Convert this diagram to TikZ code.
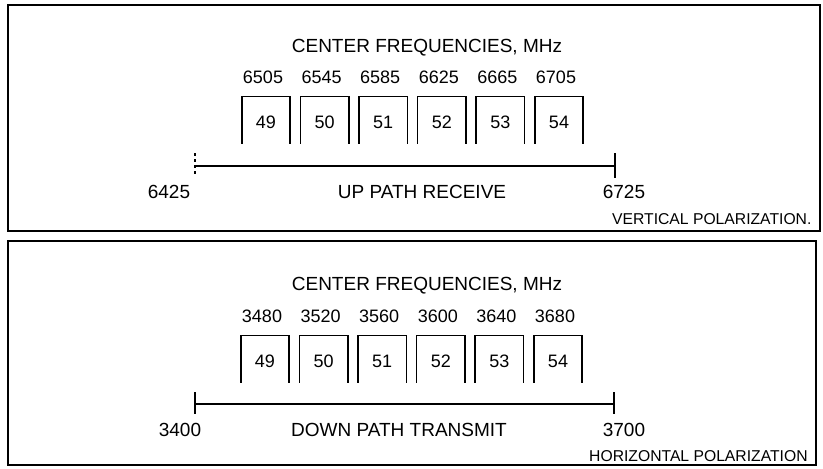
\documentclass[tikz,border=0pt]{standalone}
\usepackage{fontspec}
\setmainfont{Liberation Sans}
\usetikzlibrary{arrows.meta,positioning}

\begin{document}
\begin{tikzpicture}[
        x=1pt, y=-1pt,
        node distance=12pt and 10.2pt,
        panel/.style={line width=1.6pt},
        chan/.style={minimum width=48pt, minimum height=47pt, inner sep=0pt,
                     text height=18pt, font=\fontsize{18}{20}\selectfont},
        chanline/.style={line width=1.6pt},
        freq/.style={inner sep=0pt, font=\fontsize{18}{20}\selectfont},
        label/.style={inner sep=0pt, anchor=base, font=\fontsize{19}{22}\selectfont},
        pol/.style={inner sep=0pt, anchor=base west, font=\fontsize{15.7}{18}\selectfont},
        axis/.style={line width=1.6pt},
        tick/.style={line width=1.3pt}
    ]
        \useasboundingbox (0,0) rectangle (823,469);

        % up path
        \draw[panel] (8,5) rectangle (820,231);
        \node[label] (utitle) at (427,52) {CENTER FREQUENCIES, MHz};
        \node[chan] (u49) at (266,120) {49};
        \node[chan, right=of u49] (u50) {50};
        \node[chan, right=of u50] (u51) {51};
        \node[chan, right=of u51] (u52) {52};
        \node[chan, right=of u52] (u53) {53};
        \node[chan, right=of u53] (u54) {54};
        \node[freq, above=of u49, xshift=-3pt] (uf49) {6505};
        \node[freq, above=of u50, xshift=-3pt] (uf50) {6545};
        \node[freq, above=of u51, xshift=-3pt] (uf51) {6585};
        \node[freq, above=of u52, xshift=-3pt] (uf52) {6625};
        \node[freq, above=of u53, xshift=-3pt] (uf53) {6665};
        \node[freq, above=of u54, xshift=-3pt] (uf54) {6705};
        \coordinate (ulo) at (195,166);
        \coordinate (uhi) at (615,166);
        \draw[axis] (ulo) -- (uhi);
        \draw[tick, dashed] ([yshift=13pt]ulo) -- ([yshift=-9pt]ulo);
        \draw[tick] ([yshift=13pt]uhi) -- ([yshift=-12pt]uhi);
        \node[label] (ulow) at (169,198.5) {6425};
        \node[label] (upath) at (422,198.5) {UP PATH RECEIVE};
        \node[label] (uhigh) at (624,198.5) {6725};
        \node[pol] (upol) at (612,224) {VERTICAL POLARIZATION.};

        % down path
        \draw[panel] (8,241) rectangle (816,465);
        \node[label] (dtitle) at (427,290) {CENTER FREQUENCIES, MHz};
        \node[chan] (d49) at (265,359) {49};
        \node[chan, right=of d49] (d50) {50};
        \node[chan, right=of d50] (d51) {51};
        \node[chan, right=of d51] (d52) {52};
        \node[chan, right=of d52] (d53) {53};
        \node[chan, right=of d53] (d54) {54};
        \node[freq, above=of d49, xshift=-3pt] (df49) {3480};
        \node[freq, above=of d50, xshift=-3pt] (df50) {3520};
        \node[freq, above=of d51, xshift=-3pt] (df51) {3560};
        \node[freq, above=of d52, xshift=-3pt] (df52) {3600};
        \node[freq, above=of d53, xshift=-3pt] (df53) {3640};
        \node[freq, above=of d54, xshift=-3pt] (df54) {3680};
        \coordinate (dlo) at (195,404);
        \coordinate (dhi) at (614,404);
        \draw[axis] (dlo) -- (dhi);
        \draw[tick] ([yshift=12pt]dlo) -- ([yshift=-10pt]dlo);
        \draw[tick] ([yshift=12pt]dhi) -- ([yshift=-10pt]dhi);
        \node[label] (dlow) at (180,436.5) {3400};
        \node[label] (dpath) at (399,436.5) {DOWN PATH TRANSMIT};
        \node[label] (dhigh) at (624,436.5) {3700};
        \node[pol] (dpol) at (589,461) {HORIZONTAL POLARIZATION};

        % open-bottom channel boxes
        \foreach \n in {u49,u50,u51,u52,u53,u54,d49,d50,d51,d52,d53,d54}
            \draw[chanline] (\n.south west) |- (\n.north) -| (\n.south east);
    \end{tikzpicture}
\end{document}
